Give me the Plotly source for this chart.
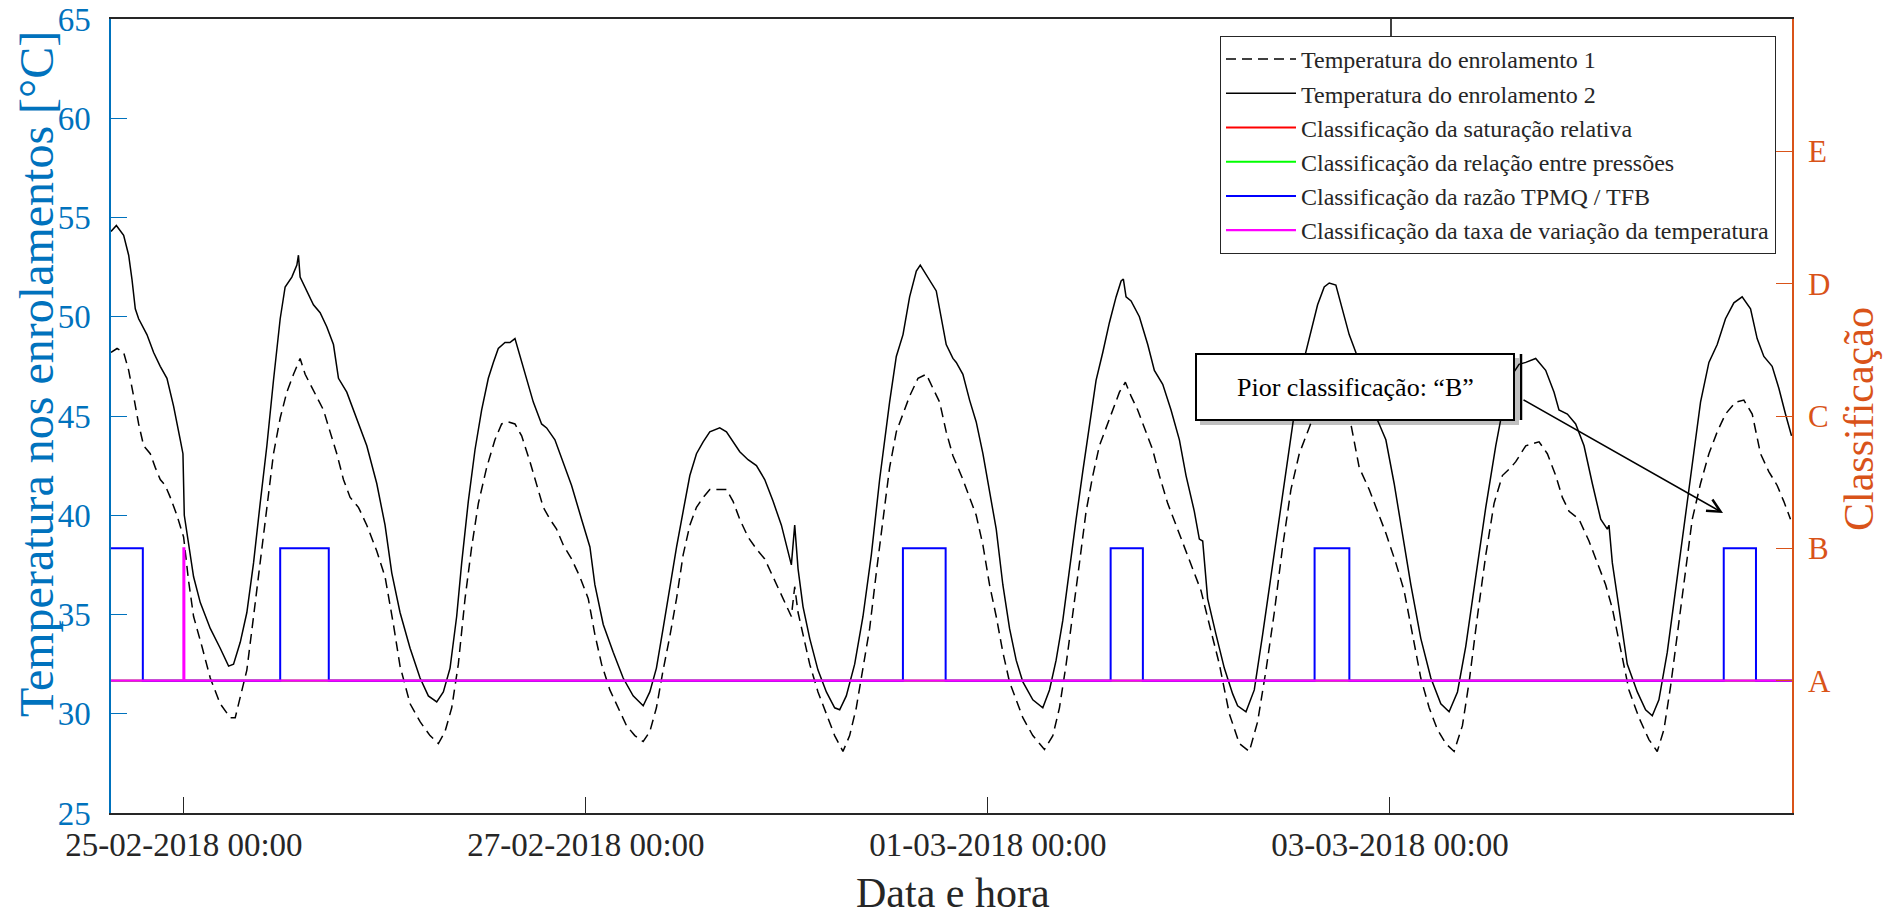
import pandas as pd
import plotly.graph_objects as go

# ---------------- data (hours relative to 25-02-2018 00:00) ----------------
t_enrol2_h = [-8.7, -8.06, -7.19, -6.59, -6.20, -5.80, -5.40, -4.41, -3.61, -2.82, -2.02, -1.23, -0.43, -0.11,
              0.05, 0.56, 1.16, 1.96, 3.15, 4.34, 5.34, 5.93, 6.73, 7.52, 8.32, 9.11, 9.91, 10.70, 11.50, 12.09,
              12.89, 13.49, 13.68, 13.88, 14.68, 15.47, 16.27, 17.06, 17.86, 18.46, 19.45, 20.64, 21.84, 23.03,
              24.02, 24.82, 25.41, 25.81, 27.01, 28.20, 29.19, 30.19, 30.98, 31.78, 32.57, 33.17, 33.96, 34.76,
              35.55, 36.35, 36.95, 37.54, 38.34, 38.93, 39.53, 40.13, 40.92, 41.72, 42.71, 43.31, 44.30, 45.30,
              46.29, 47.48, 48.48, 49.07, 50.07, 51.26, 52.45, 53.64, 54.84, 55.63, 56.42, 57.22, 58.02, 58.82,
              59.61, 60.41, 61.20, 62.00, 62.79, 63.98, 64.78, 65.57, 66.37, 67.36, 68.36, 69.35, 70.35, 71.34,
              72.14, 72.53, 72.93, 73.33, 73.92, 74.72, 75.71, 76.71, 77.70, 78.30, 79.09, 80.09, 81.08, 82.08,
              83.07, 84.26, 85.06, 85.86, 86.65, 87.45, 87.92, 88.64, 89.83, 91.02, 91.82, 92.22, 93.01, 93.81,
              94.60, 95.40, 96.19, 96.99, 97.78, 98.58, 99.37, 100.17, 101.36, 102.55, 103.35, 104.14, 104.94,
              105.73, 106.53, 107.32, 108.12, 108.91, 109.71, 110.50, 111.30, 111.90, 112.17, 112.49, 113.09,
              114.08, 115.08, 115.87, 116.87, 117.86, 118.86, 119.65, 120.64, 121.24, 121.64, 122.23, 123.23,
              124.22, 125.22, 125.81, 126.81, 127.80, 128.80, 129.79, 130.78, 131.78, 132.77, 133.77, 134.56,
              135.36, 136.15, 136.75, 137.54, 138.34, 139.13, 139.93, 141.52, 142.71, 143.51, 144.50, 145.50,
              146.49, 147.68, 148.88, 150.07, 151.06, 152.06, 153.05, 154.24, 155.44, 156.63, 157.62, 158.62,
              159.41, 160.21, 161.40, 162.59, 163.59, 164.18, 165.18, 166.17, 167.17, 168.16, 169.16, 169.95,
              170.15, 170.55, 171.34, 172.33, 173.53, 174.52, 175.32, 176.11, 177.11, 178.10, 179.10, 180.09,
              181.08, 182.08, 183.07, 184.06, 185.06, 186.05, 187.05, 187.84, 188.64, 189.63, 190.43, 191.22,
              191.94]
t_enrol2 = [54.3, 54.6, 54.1, 53.1, 51.9, 50.4, 49.9, 49.1, 48.2, 47.5, 46.9, 45.5, 43.8, 43.1,
            40.0, 38.5, 36.9, 35.6, 34.3, 33.3, 32.4, 32.5, 33.6, 35.1, 37.6, 40.6, 43.5, 46.8, 49.9, 51.5,
            52.0, 52.6, 53.1, 52.0, 51.3, 50.6, 50.2, 49.5, 48.6, 46.9, 46.2, 44.9, 43.5, 41.6,
            39.5, 37.1, 35.8, 35.1, 33.3, 31.8, 30.9, 30.6, 31.1, 32.3, 34.9, 37.6, 40.7, 43.3,
            45.3, 46.9, 47.7, 48.4, 48.7, 48.7, 48.9, 48.0, 46.8, 45.7, 44.6, 44.4, 43.8, 42.6,
            41.5, 39.8, 38.4, 36.5, 34.5, 33.1, 31.8, 30.9, 30.4, 31.1, 32.3, 34.3, 36.4, 38.4,
            40.2, 42.0, 43.1, 43.7, 44.2, 44.4, 44.2, 43.7, 43.2, 42.8, 42.5, 41.8, 40.7, 39.5,
            38.2, 37.5, 39.5, 37.3, 35.4, 33.8, 32.2, 31.1, 30.3, 30.2, 30.9, 32.5, 34.9, 38.0,
            41.8, 45.7, 48.0, 49.1, 51.0, 52.3, 52.6, 52.1, 51.3, 48.6, 47.9, 47.7, 47.1, 45.8,
            44.7, 43.1, 41.3, 39.3, 36.5, 34.3, 32.7, 31.6, 30.7, 30.3, 31.2, 32.7, 34.7,
            37.3, 39.8, 42.2, 44.4, 46.8, 48.2, 49.7, 51.0, 51.8, 51.9, 51.0, 50.8,
            50.0, 48.6, 47.3, 46.6, 45.3, 43.8, 42.0, 40.2, 38.8, 38.7, 35.8, 34.0,
            32.3, 31.0, 30.4, 30.1, 31.2, 34.0, 36.9, 39.8, 42.9, 45.7, 47.9, 49.3,
            50.6, 51.5, 51.7, 51.6, 50.4, 49.1, 48.2, 45.7, 44.6, 43.8, 41.6, 39.1,
            36.5, 33.8, 31.8, 30.5, 30.1, 31.1, 33.4, 36.9, 40.4, 43.5, 45.7, 47.1,
            47.6, 47.7, 47.9, 47.3, 46.2, 45.3, 45.1, 44.6, 43.5, 41.6, 39.8, 39.3,
            39.5, 37.6, 35.3, 32.5, 31.1, 30.2, 29.9, 30.7, 33.1, 36.2, 39.5, 42.7,
            45.7, 47.7, 48.6, 49.9, 50.7, 51.0, 50.4, 48.9, 48.0, 47.5, 46.4, 45.1,
            44.0]

t_enrol1_h = [-8.7, -7.98, -7.19, -6.59, -6.00, -5.40, -4.80, -4.01, -3.41, -2.82, -2.22, -1.62, -0.83, -0.03,
              0.56, 1.16, 2.15, 3.15, 4.34, 5.53, 6.13, 6.93, 7.52, 8.32, 9.11, 9.91, 10.70, 11.50, 12.29, 13.09,
              13.88, 14.48, 15.08, 15.87, 16.67, 17.46, 18.26, 19.05, 19.85, 20.84, 21.84, 23.03, 24.02, 25.02,
              25.61, 25.81, 27.01, 28.20, 29.39, 30.39, 31.18, 31.98, 32.77, 33.57, 34.36, 35.16, 36.15, 37.14,
              37.94, 38.74, 39.53, 40.33, 41.32, 42.12, 42.91, 43.71, 44.50, 45.30, 46.29, 47.28, 48.28, 49.07,
              49.87, 50.86, 51.86, 52.85, 53.84, 54.84, 55.63, 56.42, 57.22, 58.02, 58.82, 59.61, 60.41, 61.20,
              62.00, 62.79, 63.98, 64.78, 65.57, 66.37, 67.36, 68.36, 69.35, 70.35, 71.34, 72.14, 72.53, 72.93,
              73.33, 73.92, 74.72, 75.71, 76.71, 77.70, 78.69, 79.49, 80.28, 81.08, 81.88, 82.67, 83.47, 84.26,
              85.06, 85.86, 86.65, 87.65, 88.64, 89.43, 90.23, 91.02, 91.82, 93.01, 93.81, 94.60, 95.40, 96.19,
              96.99, 97.78, 98.58, 99.37, 100.17, 101.36, 102.75, 103.75, 104.54, 105.34, 106.13, 106.93, 107.72,
              108.52, 109.31, 110.11, 110.90, 111.70, 112.41, 113.09, 113.88, 114.88, 115.67, 116.47, 117.46,
              118.46, 119.45, 120.44, 121.44, 122.43, 123.63, 124.82, 126.01, 127.21, 128.20, 129.20, 130.19,
              131.18, 132.18, 133.17, 134.17, 135.16, 136.35, 137.34, 138.34, 139.33, 140.33, 141.52, 142.51,
              143.51, 144.70, 145.69, 146.69, 147.68, 148.68, 149.67, 150.66, 151.66, 152.65, 153.45, 154.44,
              155.44, 156.43, 157.42, 158.42, 159.02, 160.21, 161.80, 162.79, 163.79, 164.58, 165.38, 166.57,
              167.76, 168.76, 169.75, 170.55, 171.54, 172.53, 173.73, 174.92, 175.91, 176.71, 177.51, 178.30,
              179.10, 180.09, 181.08, 182.08, 183.07, 184.06, 185.26, 186.25, 187.25, 188.24, 189.23, 190.23,
              191.02, 191.82]
t_enrol1 = [48.2, 48.4, 48.2, 47.3, 46.0, 44.6, 43.5, 43.1, 42.4, 41.8, 41.5, 40.9, 40.0, 38.9,
            36.7, 34.9, 33.4, 31.8, 30.5, 29.8, 29.8, 31.1, 32.2, 34.9, 37.6, 40.6, 43.1, 44.9, 46.2, 47.1,
            47.9, 47.1, 46.6, 46.0, 45.3, 44.2, 43.1, 41.8, 40.9, 40.4, 39.5, 38.2, 36.9, 34.5,
            32.9, 32.4, 30.5, 29.6, 28.9, 28.5, 29.1, 30.3, 32.5, 35.8, 38.4, 40.6, 42.4, 43.8,
            44.6, 44.7, 44.6, 44.0, 42.7, 41.5, 40.4, 39.8, 39.3, 38.5, 37.8, 36.9, 35.8, 34.0,
            32.5, 31.2, 30.3, 29.4, 28.9, 28.6, 29.1, 30.3, 32.2, 33.9, 35.8, 38.0, 39.5, 40.4,
            40.9, 41.3, 41.3, 41.3, 40.7, 39.8, 38.9, 38.3, 37.8, 36.9, 36.0, 35.3, 34.9, 36.4,
            35.1, 34.0, 32.5, 31.1, 30.0, 28.9, 28.1, 28.9, 30.3, 32.2, 34.3, 37.1, 39.8, 42.4,
            44.2, 45.1, 46.0, 46.9, 47.1, 46.4, 45.7, 44.2, 43.0, 41.8, 40.9, 40.0, 38.5, 36.5,
            34.9, 33.1, 31.6, 30.7, 29.8, 28.9, 28.2, 28.9, 30.3, 32.5, 34.9, 37.6, 40.2,
            42.0, 43.5, 44.4, 45.3, 46.2, 46.7, 46.0, 45.3, 44.2, 43.3, 42.0, 40.6,
            39.5, 38.4, 37.3, 36.2, 34.5, 32.5, 30.0, 28.5, 28.1, 29.6, 32.2, 35.1,
            38.4, 41.3, 43.1, 44.2, 45.3, 46.2, 46.4, 45.7, 44.6, 42.4, 41.3, 40.2,
            39.1, 37.6, 36.2, 34.0, 31.8, 30.3, 29.2, 28.5, 28.1, 29.4, 31.6, 34.9,
            38.0, 40.6, 42.0, 42.4, 42.7, 43.5, 43.7, 43.1, 42.0, 40.9, 40.2, 39.8,
            38.7, 37.6, 36.5, 35.3, 33.3, 31.2, 29.8, 28.7, 28.1, 29.2, 31.4, 34.0,
            36.7, 39.8, 41.6, 43.1, 44.2, 45.1, 45.7, 45.8, 45.1, 43.1, 42.2, 41.5,
            40.7, 39.8]

# classification levels: 1=A, 2=B, 3=C, 4=D, 5=E (step series)
cls_sat_h = [-8.7, 192.0]
cls_sat = [1, 1]
cls_press_h = [-8.7, 192.0]
cls_press = [1, 1]
cls_tpmq_h = [-8.7, -4.9, 11.5, 17.3, 85.85, 90.95, 110.65, 114.5, 135.0, 139.15, 183.85, 187.7, 192.0]
cls_tpmq = [2, 1, 2, 1, 2, 1, 2, 1, 2, 1, 2, 1, 1]
cls_taxa_h = [-8.7, -0.05, 0.05, 192.0]
cls_taxa = [1, 2, 1, 1]

class_labels = ["A", "B", "C", "D", "E"]
class_levels = [1, 2, 3, 4, 5]
x_tick_dates = ["2018-02-25 00:00", "2018-02-27 00:00", "2018-03-01 00:00", "2018-03-03 00:00"]
t_start_h, t_end_h = -8.7, 192.0

base = pd.Timestamp("2018-02-25 00:00")


def to_time(hours):
    return base + pd.to_timedelta(pd.Series(hours, dtype=float), unit="h")


FONT = "Liberation Serif"
BLUE_AX = "#0072BD"
ORANGE_AX = "#D95319"
DARK = "#262626"

fig = go.Figure()
fig.add_trace(go.Scatter(x=to_time(t_enrol1_h), y=t_enrol1, mode="lines",
                         name="Temperatura do enrolamento 1",
                         line=dict(color="black", width=1.5, dash="10px,6px")))
fig.add_trace(go.Scatter(x=to_time(t_enrol2_h), y=t_enrol2, mode="lines",
                         name="Temperatura do enrolamento 2",
                         line=dict(color="black", width=1.5)))
fig.add_trace(go.Scatter(x=to_time(cls_sat_h), y=cls_sat, mode="lines", yaxis="y2",
                         name="Classificação da saturação relativa",
                         line=dict(color="#FF0000", width=2, shape="hv")))
fig.add_trace(go.Scatter(x=to_time(cls_press_h), y=cls_press, mode="lines", yaxis="y2",
                         name="Classificação da relação entre pressões",
                         line=dict(color="#00FF00", width=2, shape="hv")))
fig.add_trace(go.Scatter(x=to_time(cls_tpmq_h), y=cls_tpmq, mode="lines", yaxis="y2",
                         name="Classificação da razão TPMQ / TFB",
                         line=dict(color="#0000FF", width=2, shape="hv")))
fig.add_trace(go.Scatter(x=to_time(cls_taxa_h), y=cls_taxa, mode="lines", yaxis="y2",
                         name="Classificação da taxa de variação da temperatura",
                         line=dict(color="#FF00FF", width=2.2, shape="hv")))

# The page body margin is removed (see post_script), so figure pixels = window pixels.
OFF = 0
W, H = 1894, 915
# plot area in screen pixels: x 111..1792, y 19..813
SL, ST, SR, SB = 111, 19, 1792, 813
PL, PT = SL - OFF, ST - OFF
PW, PH = SR - SL, SB - ST


def px(xs):
    return (xs - OFF - PL) / PW


def py(ys):
    return (PT + PH - (ys - OFF)) / PH


xr = to_time([t_start_h, t_end_h])

fig.update_layout(
    width=W, height=H,
    margin=dict(l=PL, r=W - PL - PW, t=PT, b=H - PT - PH, autoexpand=False),
    paper_bgcolor="white", plot_bgcolor="white",
    font=dict(family=FONT, color=DARK),
    showlegend=True,
    legend=dict(x=px(1776), y=py(36), xanchor="right", yanchor="top",
                bgcolor="white", bordercolor=DARK, borderwidth=1,
                font=dict(family=FONT, size=24, color=DARK),
                itemwidth=70, tracegroupgap=0),
    xaxis=dict(range=[xr.iloc[0], xr.iloc[1]], type="date", automargin=False,
               tickvals=pd.to_datetime(x_tick_dates), tickformat="%d-%m-%Y %H:%M",
               ticks="inside", ticklen=16, tickwidth=1, tickcolor=DARK,
               showline=True, linecolor=DARK, linewidth=1.5, mirror=True,
               showgrid=False, zeroline=False, ticklabelstandoff=2, ticklabeloverflow="allow",
               tickfont=dict(family=FONT, size=33, color=DARK)),
    yaxis=dict(range=[25, 65], dtick=5, tick0=25, automargin=False,
               ticks="inside", ticklen=16, tickwidth=1, tickcolor=BLUE_AX,
               showline=True, linecolor=BLUE_AX, linewidth=1.5,
               showgrid=False, zeroline=False, ticklabelstandoff=12, ticklabeloverflow="allow",
               tickfont=dict(family=FONT, size=33, color=BLUE_AX)),
    yaxis2=dict(range=[0, 6], overlaying="y", side="right", automargin=False,
                tickvals=class_levels, ticktext=class_labels,
                ticks="inside", ticklen=16, tickwidth=1, tickcolor=ORANGE_AX,
                showline=True, linecolor=ORANGE_AX, linewidth=1.5,
                showgrid=False, zeroline=False, ticklabelstandoff=8, ticklabeloverflow="allow",
                tickfont=dict(family=FONT, size=31, color=ORANGE_AX)),
)

shapes = [
    # small vertical line between top border and legend
    dict(type="line", xref="paper", yref="paper", x0=px(1391), x1=px(1391), y0=py(ST), y1=py(36),
         line=dict(color="black", width=1.5)),
    # callout shadow
    dict(type="rect", xref="paper", yref="paper", x0=px(1200), x1=px(1519), y0=py(358), y1=py(425),
         fillcolor="rgba(0,0,0,0.25)", line=dict(width=0), layer="above"),
    # callout box
    dict(type="rect", xref="paper", yref="paper", x0=px(1196), x1=px(1514), y0=py(354), y1=py(420),
         fillcolor="white", line=dict(color="black", width=2), layer="above"),
    # bar at right of callout
    dict(type="line", xref="paper", yref="paper", x0=px(1521), x1=px(1521), y0=py(354), y1=py(420),
         line=dict(color="black", width=2.5), layer="above"),
]
fig.update_layout(shapes=shapes)

annotations = [
    dict(text="Pior classificação: “B”", xref="paper", yref="paper", x=px(1355), y=py(387),
         xanchor="center", yanchor="middle", showarrow=False,
         font=dict(family=FONT, size=26, color="black")),
    dict(text="", xref="paper", yref="paper", x=px(1723), y=py(513),
         ax=1522 - 1723, ay=399 - 513, axref="pixel", ayref="pixel",
         showarrow=True, arrowhead=5, arrowsize=1.6, arrowwidth=1.6, arrowcolor="black"),
    dict(text="Temperatura nos enrolamentos [°C]", xref="paper", yref="paper",
         x=px(36), y=py(374), xanchor="center", yanchor="middle", textangle=-90, showarrow=False,
         font=dict(family=FONT, size=48, color=BLUE_AX)),
    dict(text="Classificação", xref="paper", yref="paper",
         x=px(1859), y=py(419), xanchor="center", yanchor="middle", textangle=-90, showarrow=False,
         font=dict(family=FONT, size=42, color=ORANGE_AX)),
    dict(text="Data e hora", xref="paper", yref="paper",
         x=px(953), y=py(893), xanchor="center", yanchor="middle", showarrow=False,
         font=dict(family=FONT, size=42, color=DARK)),
]
fig.update_layout(annotations=annotations)

fig.write_html("out.html", config={"displayModeBar": False},
               post_script="document.body.style.margin='0px';")
